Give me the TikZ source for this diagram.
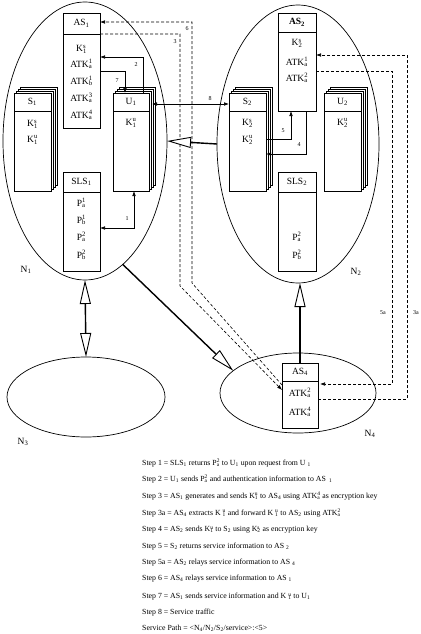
\documentclass[tikz,border=0pt]{standalone}
\usepackage{fontspec}
\setmainfont{Liberation Serif}
\usetikzlibrary{arrows.meta,shapes.geometric}
\newcommand{\subsup}[2]{{\setbox0=\hbox{\textsuperscript{#2}}\setbox2=\hbox{\textsubscript{#1}}\ifdim\wd0>\wd2 \rlap{\box2}\box0\else\rlap{\box0}\box2\fi}}
\tikzset{
  box/.style={draw, line width=0.6pt, fill=white, inner sep=0pt, outer sep=0pt},
  net/.style={draw, ellipse, line width=0.7pt, inner sep=0pt, outer sep=0pt},
  lbl/.style={font=\fontsize{9.5}{10}\selectfont, inner sep=0pt},
  num/.style={font=\fontsize{6}{7}\selectfont, inner sep=0pt},
  steptext/.style={font=\fontsize{7.8}{9}\selectfont, inner sep=0pt, anchor=west},
  conn/.style={line width=0.6pt, -{Latex[length=5pt,width=3.6pt]}},
  dconn/.style={conn, dash pattern=on 3pt off 2pt},
  hollow/.style={line width=1.4pt, -{Triangle[length=24pt,width=11pt,fill=white,line width=0.9pt]}},
  dhollow/.style={line width=1.4pt, {Triangle[length=24pt,width=11pt,fill=white,line width=0.9pt]}-{Triangle[length=24pt,width=11pt,fill=white,line width=0.9pt]}}
}
\begin{document}
\begin{tikzpicture}[x=1pt,y=-1pt]
\fill[white] (0,0) rectangle (420,634);
\useasboundingbox (0,0) rectangle (420,634);

% networks
\node[net, minimum width=164pt, minimum height=278pt] (N1) at (85,141) {};
\node[net, minimum width=162pt, minimum height=278pt] (N2) at (298,144) {};
\node[net, minimum width=158pt, minimum height=80pt] (N3) at (86,397) {};
\node[net, minimum width=156pt, minimum height=80pt] (N4) at (298,393) {};
\node[lbl] (lN1) at (26,270) {N\textsubscript{1}};
\node[lbl] (lN2) at (356,272) {N\textsubscript{2}};
\node[lbl] (lN3) at (23,442) {N\textsubscript{3}};
\node[lbl] (lN4) at (370,434) {N\textsubscript{4}};

% stacks (back layers)
\foreach \k in {3,2,1} {
  \draw[box] (14+2*\k, 93-2*\k) rectangle ++(37,98);
  \draw[box] (113+2*\k, 93-2*\k) rectangle ++(36,98);
  \draw[box] (229+2*\k, 93-2*\k) rectangle ++(37,98);
  \draw[box] (324+2*\k, 93-2*\k) rectangle ++(37,98);
}

% front boxes
\node[box, minimum width=37pt, minimum height=115pt] (AS1) at (81.5,70.5) {};
\node[box, minimum width=37pt, minimum height=98pt] (S1) at (32.5,142) {};
\node[box, minimum width=36pt, minimum height=98pt] (U1) at (131,142) {};
\node[box, minimum width=37pt, minimum height=99pt] (SLS1) at (81.5,221.5) {};
\node[box, minimum width=38pt, minimum height=98pt] (AS2) at (297,62) {};
\node[box, minimum width=37pt, minimum height=98pt] (S2) at (247.5,142) {};
\node[box, minimum width=37pt, minimum height=98pt] (U2) at (342.5,142) {};
\node[box, minimum width=38pt, minimum height=99pt] (SLS2) at (297,221.5) {};
\node[box, minimum width=36pt, minimum height=65pt] (AS4) at (300,395.5) {};

% header dividers
\draw[line width=0.6pt] (AS1.north west) ++(0,21) -- ++(37,0);
\draw[line width=0.6pt] (S1.north west) ++(0,18) -- ++(37,0);
\draw[line width=0.6pt] (U1.north west) ++(0,18) -- ++(36,0);
\draw[line width=0.6pt] (SLS1.north west) ++(0,20) -- ++(37,0);
\draw[line width=0.6pt] (AS2.north west) ++(0,19) -- ++(38,0);
\draw[line width=0.6pt] (S2.north west) ++(0,18) -- ++(37,0);
\draw[line width=0.6pt] (U2.north west) ++(0,18) -- ++(37,0);
\draw[line width=0.6pt] (SLS2.north west) ++(0,20) -- ++(38,0);
\draw[line width=0.6pt] (AS4.north west) ++(0,18) -- ++(36,0);

% box texts
\node[lbl] (tAS1) at (81.5,23.5) {AS\textsubscript{1}};
\node[lbl] (a1) at (81.5,49) {K\subsup{1}{s}};
\node[lbl] (a2) at (81.5,64) {ATK\subsup{a}{1}};
\node[lbl] (a3) at (81.5,81) {ATK\subsup{b}{1}};
\node[lbl] (a4) at (81.5,98) {ATK\subsup{a}{3}};
\node[lbl] (a5) at (81.5,115) {ATK\subsup{a}{4}};
\node[lbl] (tS1) at (32.5,102) {S\textsubscript{1}};
\node[lbl] (s1a) at (32.5,124) {K\subsup{1}{s}};
\node[lbl] (s1b) at (32.5,140) {K\subsup{1}{u}};
\node[lbl] (tU1) at (131,102) {U\textsubscript{1}};
\node[lbl] (u1a) at (131,123) {K\subsup{1}{u}};
\node[lbl] (tSLS1) at (81.5,182) {SLS\textsubscript{1}};
\node[lbl] (p1) at (81.5,203) {P\subsup{a}{1}};
\node[lbl] (p2) at (81.5,220) {P\subsup{b}{1}};
\node[lbl] (p3) at (81.5,237) {P\subsup{a}{2}};
\node[lbl] (p4) at (81.5,255) {P\subsup{b}{2}};
\node[lbl] (tAS2) at (297,22.5) {\textbf{AS\textsubscript{2}}};
\node[lbl] (b1) at (297,43) {K\subsup{2}{s}};
\node[lbl] (b2) at (297,62) {ATK\subsup{a}{1}};
\node[lbl] (b3) at (297,78) {ATK\subsup{a}{2}};
\node[lbl] (tS2) at (247.5,102) {S\textsubscript{2}};
\node[lbl] (s2a) at (247.5,123) {K\subsup{2}{s}};
\node[lbl] (s2b) at (247.5,140) {K\subsup{2}{u}};
\node[lbl] (tU2) at (342.5,102) {U\textsubscript{2}};
\node[lbl] (u2a) at (342.5,123) {K\subsup{2}{u}};
\node[lbl] (tSLS2) at (297,182) {SLS\textsubscript{2}};
\node[lbl] (q1) at (297,237) {P\subsup{a}{2}};
\node[lbl] (q2) at (297,255) {P\subsup{b}{2}};
\node[lbl] (tAS4) at (300,372) {AS\textsubscript{4}};
\node[lbl] (c1) at (300,393) {ATK\subsup{a}{2}};
\node[lbl] (c2) at (300,412) {ATK\subsup{a}{4}};

% solid connectors
\draw[conn, {Latex[length=5pt,width=3.6pt]}-{Latex[length=5pt,width=3.6pt]}] ([xshift=3pt]U1.south) |- ([yshift=-6.5pt]SLS1.east);
\node[num] (n1) at (127,219) {1};
\draw[conn] ([xshift=12pt]U1.north) |- ([yshift=13.5pt]AS1.east);
\node[num] (n2) at (136,65) {2};
\draw[conn] ([yshift=-0.5pt]AS1.east) -| ([xshift=-6pt]U1.north);
\node[num] (n7) at (117,81) {7};
\draw[conn, {Latex[length=5pt,width=3.6pt]}-{Latex[length=5pt,width=3.6pt]}] ([xshift=3pt,yshift=-11pt]U1.north east) -- ([yshift=-11pt]S2.north west);
\node[num] (n8) at (210,99) {8};
\draw[conn] ([xshift=9pt]AS2.south) |- ([yshift=-12pt]S2.east);
\node[num] (n4) at (299,145) {4};
\draw[conn] ([yshift=3pt]S2.east) -| ([xshift=-6pt]AS2.south);
\node[num] (n5) at (283,131) {5};

% dashed connectors
\draw[dconn] ([yshift=36.5pt]AS1.east) -| (180,286) -- ([yshift=5.5pt]AS4.west);
\node[num] (n3) at (175,42) {3};
\draw[dconn] ([yshift=10.5pt]AS4.west) -- (192,283) |- ([yshift=48.5pt]AS1.east);
\node[num] (n6) at (187,29) {6};
\draw[dconn] ([yshift=-3.5pt]AS4.east) -| (407,55) -- ([yshift=7pt]AS2.east);
\node[num] (n3a) at (416,313) {3a};
\draw[dconn, shorten >=2pt] ([yshift=-9pt]AS2.east) -| (392,384) -- ([yshift=11.5pt]AS4.east);
\node[num] (n5a) at (383,313) {5a};

% hollow arrows between networks
\draw[hollow] (N2.west) -- (N1.east);
\draw[hollow] (AS4.north) -- (AS4.north |- N2.south);
\draw[hollow] (N1.287.5) -- (N4.161.8);
\draw[dhollow] (N1.south) -- (N3.north);

% step text
\node[steptext] (st1) at (142,463) {Step 1 = SLS\textsubscript{1} returns P\subsup{a}{2} to U\textsubscript{1} upon request from U \textsubscript{1}};
\node[steptext] (st2) at (142,479) {Step 2 = U\textsubscript{1} sends P\subsup{a}{2} and authentication information to AS \,\textsubscript{1}};
\node[steptext] (st3) at (142,496) {Step 3 = AS\textsubscript{1} generates and sends K\subsup{1}{u} to AS\textsubscript{4} using ATK\subsup{a}{4} as encryption key};
\node[steptext] (st3a) at (142,513) {Step 3a = AS\textsubscript{4} extracts K \subsup{1}{u} and forward K \subsup{1}{u} to AS\textsubscript{2} using ATK\subsup{a}{2}};
\node[steptext] (st4) at (142,530) {Step 4 = AS\textsubscript{2} sends K\subsup{1}{u} to S\textsubscript{2} using K\subsup{2}{s} as encryption key};
\node[steptext] (st5) at (142,547) {Step 5 = S\textsubscript{2} returns service information to AS \textsubscript{2}};
\node[steptext] (st5a) at (142,563) {Step 5a = AS\textsubscript{2} relays service information to AS \textsubscript{4}};
\node[steptext] (st6) at (142,579) {Step 6 = AS\textsubscript{4} relays service information to AS \textsubscript{1}};
\node[steptext] (st7) at (142,597) {Step 7 = AS\textsubscript{1} sends service information and K \subsup{1}{u} to U\textsubscript{1}};
\node[steptext] (st8) at (142,613) {Step 8 = Service traffic};
\node[steptext] (sp) at (142,628) {Service Path = <N\textsubscript{4}/N\textsubscript{2}/S\textsubscript{2}/service>:<5>};
\end{tikzpicture}
\end{document}
